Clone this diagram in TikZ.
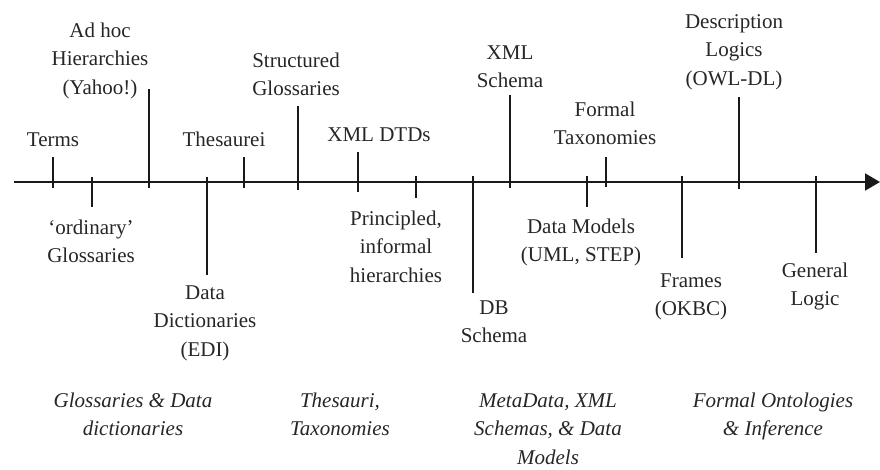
\documentclass[tikz,border=0pt]{standalone}
\usepackage{fontspec}
\setmainfont{Liberation Serif}
\usetikzlibrary{arrows.meta}
\newcommand\sx{\strut}
\begin{document}
\begin{tikzpicture}[x=1pt,y=-1pt,
  lbl/.style={anchor=north,inner sep=0pt,align=center,text=black!85,
    font=\fontsize{21}{28.5}\selectfont},
  ital/.style={anchor=north,inner sep=0pt,align=center,text=black!85,
    font=\fontsize{21}{28.5}\selectfont\itshape},
  tickline/.style={line width=1.8pt,black!90},
  axisline/.style={line width=2pt,black!90,-{Triangle[length=15pt,width=17pt]}}]
\useasboundingbox (0,0) rectangle (880,470);
% axis
\coordinate (a0) at (14,182);
\coordinate (a1) at (880,182);
\draw[axisline] (a0) -- (a1);
% ticks (x, top, bottom)
\foreach \x/\t/\b in {53/157/188, 92/177/207, 149/89/188, 207/177/275,
  244/157/188, 298/106/190, 416/176/198, 473/176/293, 510/95/188,
  587/176/207, 606/157/187, 682/176/258, 739/97/189, 816/176/253}
  \draw[tickline] (\x,\t) -- (\x,\b);
\draw[line width=2.6pt,black!90] (358,152) -- (358,192);
% labels above (north = first baseline - 19.95)
\node[lbl] (terms) at (53,126) {\sx Terms};
\node[lbl] (adhoc) at (100,17) {\sx Ad hoc\\\sx Hierarchies\\\sx (Yahoo!)};
\node[lbl] (thes) at (224,126) {\sx Thesaurei};
\node[lbl] (struct) at (296,47) {\sx Structured\\\sx Glossaries};
\node[lbl] (dtd) at (379,121) {\sx XML DTDs};
\node[lbl] (xsd) at (510,39) {\sx XML\\\sx Schema};
\node[lbl] (ftax) at (605,96) {\sx Formal\\\sx Taxonomies};
\node[lbl] (dl) at (734,8) {\sx Description\\\sx Logics\\\sx (OWL-DL)};
% labels below
\node[lbl] (ord) at (91,214) {\sx `ordinary'\\\sx Glossaries};
\node[lbl] (dd) at (205,279) {\sx Data\\\sx Dictionaries\\\sx (EDI)};
\node[lbl] (princ) at (396,205) {\sx Principled,\\\sx informal\\\sx hierarchies};
\node[lbl] (db) at (494,294) {\sx DB\\\sx Schema};
\node[lbl] (dm) at (581,213) {\sx Data Models\\\sx (UML, STEP)};
\node[lbl] (fr) at (691,267) {\sx Frames\\\sx (OKBC)};
\node[lbl] (gl) at (815,257) {\sx General\\\sx Logic};
% category labels
\node[ital] (c1) at (133,387) {\sx Glossaries \& Data\\\sx dictionaries};
\node[ital] (c2) at (340,387) {\sx Thesauri,\\\sx Taxonomies};
\node[ital] (c3) at (548,387) {\sx MetaData, XML\\\sx Schemas, \& Data\\Models};
\node[ital] (c4) at (773,387) {\sx Formal Ontologies\\\sx \& Inference};
\end{tikzpicture}
\end{document}
